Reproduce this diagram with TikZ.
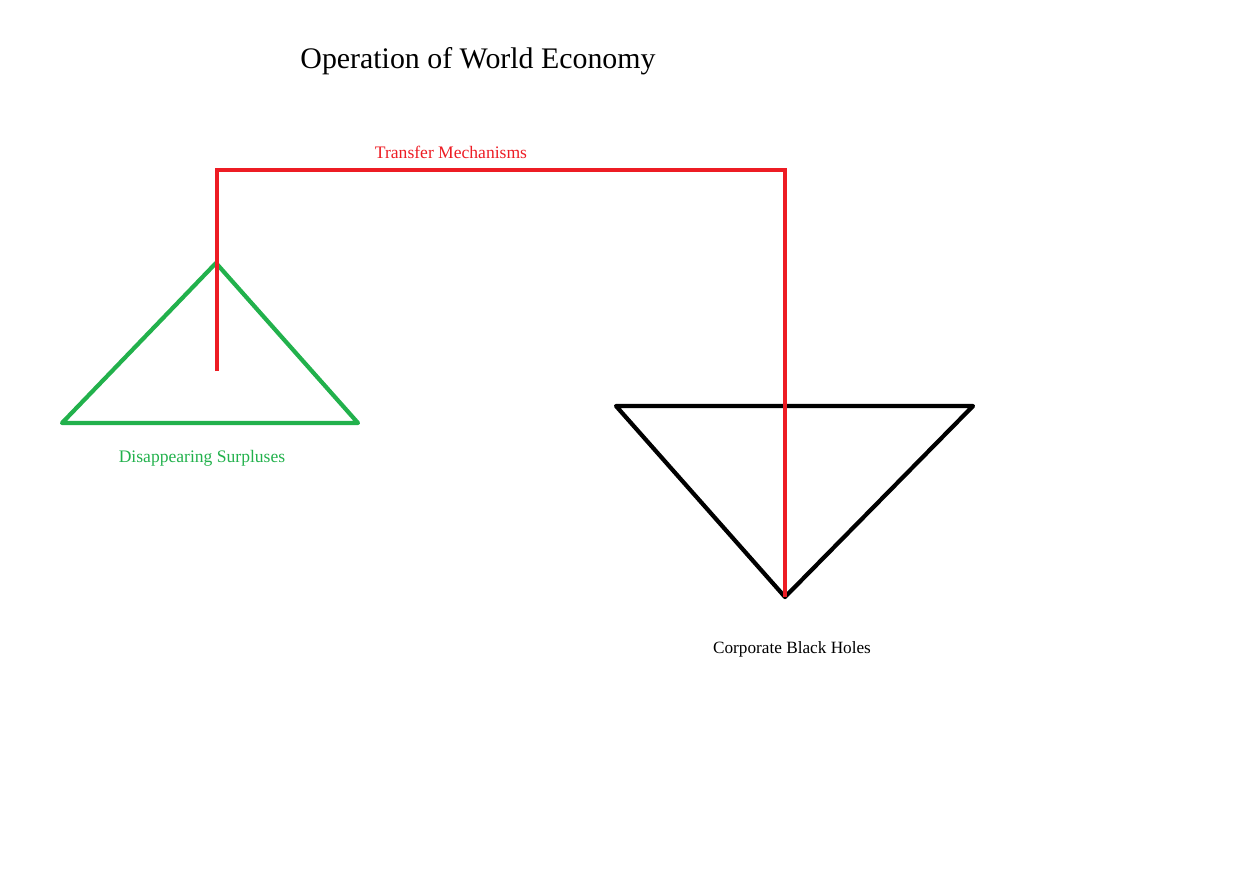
\documentclass[tikz,border=0pt]{standalone}
\usepackage{fontspec}
\setmainfont{Liberation Serif}
\usepackage{tikz}

\definecolor{paintred}{RGB}{237,28,36}
\definecolor{paintgreen}{RGB}{34,177,76}

\begin{document}
\begin{tikzpicture} [x=0.02cm, y=-0.02cm, line width=2.4pt]

\useasboundingbox (0,0) rectangle (1260,886);

\coordinate (g1) at(62, 423);
\coordinate (g2) at(216, 263);
\coordinate (g3) at(358, 423);

\coordinate (b1) at(616, 406);
\coordinate (b2) at(973, 406);
\coordinate (b3) at(785, 597);

\coordinate (r1) at(217, 371);
\coordinate (r2) at(217, 170);
\coordinate (r3) at(785, 170);

\draw [paintgreen, line join=round] (g1) -- (g2) -- (g3) -- cycle;
\draw [black, line join=round] (b1) -- (b2) -- (b3) -- cycle;
\draw [paintred] (r1) -- (r2) -- (r3) -- (b3);

\node (title) at(478, 61) {\fontsize{17}{20}\selectfont Operation of World Economy};
\node [paintred] (transfer) at(451, 152) {Transfer Mechanisms};
\node [paintgreen] (surplus) at(202, 458) {Disappearing Surpluses};
\node (holes) at(792, 649) {\fontsize{9.8}{12}\selectfont Corporate Black Holes};

\end{tikzpicture}
\end{document}
